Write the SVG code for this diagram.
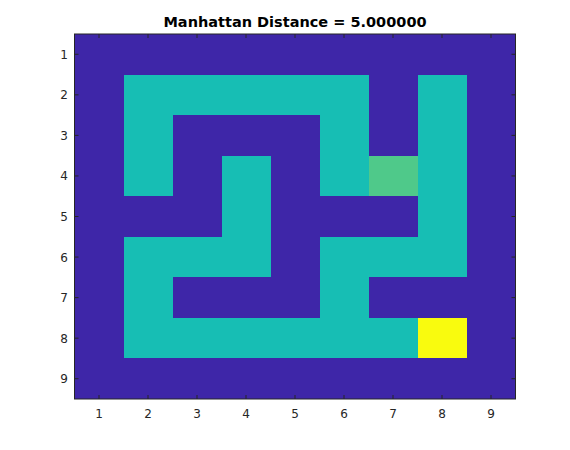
<svg xmlns="http://www.w3.org/2000/svg" width="570" height="450" viewBox="0 0 570 450">
<style>
.wall{fill:#3e26a8}
.path{fill:#17beb4}
.start{fill:#4fc98a}
.goal{fill:#f9fb0e}
.cells rect{shape-rendering:crispEdges}
.tick{stroke:#262626;stroke-width:1;fill:none}
.lbl{font-family:"DejaVu Sans",sans-serif;font-size:12px;fill:#262626}
.title{font-family:"DejaVu Sans",sans-serif;font-size:14.5px;font-weight:bold;fill:#000}
</style>
<rect width="570" height="450" fill="#fff"/>
<text class="title" x="295" y="27" text-anchor="middle">Manhattan Distance = 5.000000</text>
<g id="grid" class="cells">
<rect class="wall" x="74.5" y="34" width="441" height="365"/>
<rect class="path" x="123.5" y="74.56" width="245" height="40.56"/>
<rect class="path" x="417.5" y="74.56" width="49" height="202.78"/>
<rect class="path" x="123.5" y="115.11" width="49" height="81.11"/>
<rect class="path" x="319.5" y="115.11" width="49" height="81.11"/>
<rect class="path" x="221.5" y="155.67" width="49" height="81.11"/>
<rect class="start" x="368.5" y="155.67" width="49" height="40.56"/>
<rect class="path" x="123.5" y="236.78" width="147" height="40.56"/>
<rect class="path" x="319.5" y="236.78" width="98" height="40.56"/>
<rect class="path" x="123.5" y="277.33" width="49" height="40.56"/>
<rect class="path" x="319.5" y="277.33" width="49" height="40.56"/>
<rect class="path" x="123.5" y="317.89" width="294" height="40.56"/>
<rect class="goal" x="417.5" y="317.89" width="49" height="40.56"/>
</g>
<g id="axes">
<rect class="tick" x="74.5" y="34" width="441" height="365"/>
<path class="tick" d="M99 399v-4M148 399v-4M197 399v-4M246 399v-4M295 399v-4M344 399v-4M393 399v-4M442 399v-4M491 399v-4
M99 34v4M148 34v4M197 34v4M246 34v4M295 34v4M344 34v4M393 34v4M442 34v4M491 34v4
M74.5 54.28h4M74.5 94.83h4M74.5 135.39h4M74.5 175.94h4M74.5 216.5h4M74.5 257.06h4M74.5 297.61h4M74.5 338.17h4M74.5 378.72h4
M515.5 54.28h-4M515.5 94.83h-4M515.5 135.39h-4M515.5 175.94h-4M515.5 216.5h-4M515.5 257.06h-4M515.5 297.61h-4M515.5 338.17h-4M515.5 378.72h-4"/>
<g class="lbl" text-anchor="middle">
<text x="99" y="418">1</text><text x="148" y="418">2</text><text x="197" y="418">3</text><text x="246" y="418">4</text><text x="295" y="418">5</text><text x="344" y="418">6</text><text x="393" y="418">7</text><text x="442" y="418">8</text><text x="491" y="418">9</text>
</g>
<g class="lbl" text-anchor="end">
<text x="68" y="58.7">1</text><text x="68" y="99.2">2</text><text x="68" y="139.8">3</text><text x="68" y="180.3">4</text><text x="68" y="220.9">5</text><text x="68" y="261.5">6</text><text x="68" y="302">7</text><text x="68" y="342.6">8</text><text x="68" y="383.1">9</text>
</g>
</g>
</svg>
